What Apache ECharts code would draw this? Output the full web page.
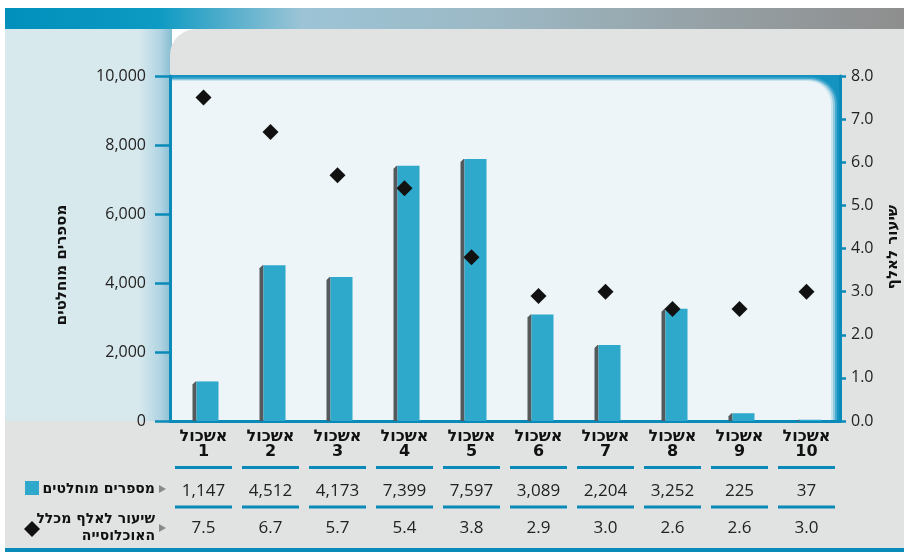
<!DOCTYPE html>
<html>
<head>
<meta charset="utf-8">
<script src="https://cdn.jsdelivr.net/npm/echarts@6/dist/echarts.min.js"></script>
<style>
  html, body { margin: 0; padding: 0; background: #ffffff; }
  #chart { width: 904px; height: 553px; }
</style>
</head>
<body>
<div id="chart"></div>
<script>
// Clusters (אשכול 1..10)
const categories = ['אשכול\n1', 'אשכול\n2', 'אשכול\n3', 'אשכול\n4', 'אשכול\n5',
                    'אשכול\n6', 'אשכול\n7', 'אשכול\n8', 'אשכול\n9', 'אשכול\n10'];
// Absolute numbers (bars, left axis)
const counts = [1147, 4512, 4173, 7399, 7597, 3089, 2204, 3252, 225, 37];
// Rate per thousand of population (diamonds, right axis)
const rates = [7.5, 6.7, 5.7, 5.4, 3.8, 2.9, 3.0, 2.6, 2.6, 3.0];

const leftAxisName = 'מספרים מוחלטים';
const rightAxisName = 'שיעור לאלף';
const legendCounts = 'מספרים מוחלטים';
const legendRates = ['שיעור לאלף מכלל', 'האוכלוסייה'];

const BLUE = '#2ea9cc';
const SIDE = '#545a5c';
const LINE = '#0a8ab8';
const NUM_FONT = "'Open Sans', 'DejaVu Sans', sans-serif";
const HEB_FONT = "'DejaVu Sans', 'Noto Sans', sans-serif";

const chart = echarts.init(document.getElementById('chart'), null, { renderer: 'canvas' });

const GRID = { left: 170, right: 64, top: 76, bottom: 132 };

// Bars with a dark left side face
function renderBar(params, api) {
  const idx = api.value(0);
  const v = api.value(1);
  const top = api.coord([idx, v]);
  const base = api.coord([idx, 0]);
  const cx = top[0];
  const h = base[1] - top[1];
  const bev = Math.min(3, h);
  return {
    type: 'group',
    children: [
      {
        type: 'polygon',
        shape: { points: [[cx - 11, top[1] + bev], [cx - 8, top[1]], [cx - 7, top[1]], [cx - 7, base[1]], [cx - 11, base[1]]] },
        style: { fill: SIDE }
      },
      {
        type: 'rect',
        shape: { x: cx - 7, y: top[1], width: 22, height: h },
        style: { fill: BLUE }
      }
    ]
  };
}

const backgrounds = [
  // top banner
  { type: 'rect', z: -10, shape: { x: 5, y: 8, width: 899, height: 21 },
    style: { fill: new echarts.graphic.LinearGradient(0, 0, 1, 0, [
      { offset: 0, color: '#0090bb' }, { offset: 0.17, color: '#0d9ac3' },
      { offset: 0.33, color: '#9cc4d6' }, { offset: 0.55, color: '#9cb8c4' },
      { offset: 0.8, color: '#959fa3' }, { offset: 1, color: '#8e8e8e' }]) } },
  // light blue side panel
  { type: 'rect', z: -10, shape: { x: 5, y: 29, width: 167, height: 392 },
    style: { fill: new echarts.graphic.LinearGradient(0, 0, 1, 0, [
      { offset: 0, color: '#d8e9ee' }, { offset: 0.8, color: '#d8e9ee' },
      { offset: 0.93, color: '#b0d4e2' }, { offset: 1, color: '#86bcd2' }]) } },
  // grey panel behind plot
  { type: 'rect', z: -9, shape: { x: 170, y: 29, width: 734, height: 392, r: [26, 0, 0, 0] },
    style: { fill: '#e1e3e3' } },
  // table panel
  { type: 'rect', z: -9, shape: { x: 5, y: 421, width: 899, height: 128 },
    style: { fill: '#e1e3e3' } },
  // bottom rule
  { type: 'rect', z: -8, shape: { x: 5, y: 548, width: 899, height: 4 },
    style: { fill: LINE } },
  // plot area: blue frame fading into a rounded light interior
  { type: 'rect', z: -8, shape: { x: 170, y: 75, width: 670, height: 346 }, style: { fill: '#1593c0' } },
  { type: 'rect', z: -8, shape: { x: 170, y: 77.5, width: 667, height: 343.5, r: [0, 26, 0, 0] }, style: { fill: '#45a9cf' } },
  { type: 'rect', z: -8, shape: { x: 170, y: 79, width: 665, height: 342, r: [0, 25, 0, 0] }, style: { fill: '#8fc9df' } },
  { type: 'rect', z: -8, shape: { x: 170, y: 80, width: 663, height: 341, r: [0, 24, 0, 0] }, style: { fill: '#c9e4ee' } },
  { type: 'rect', z: -8, shape: { x: 170, y: 81, width: 661, height: 340, r: [0, 23, 0, 0] }, style: { fill: '#edf5f8' } },
  // axis titles
  { type: 'text', z: 10, x: 62, y: 265, rotation: Math.PI / 2,
    style: { text: leftAxisName, font: 'bold 15px ' + HEB_FONT, fill: '#111', align: 'center', verticalAlign: 'middle' } },
  { type: 'text', z: 10, x: 893, y: 247, rotation: Math.PI / 2,
    style: { text: rightAxisName, font: 'bold 15px ' + HEB_FONT, fill: '#111', align: 'center', verticalAlign: 'middle' } },
  // legend column
  { type: 'rect', z: 10, shape: { x: 25, y: 481, width: 14, height: 14 }, style: { fill: BLUE } },
  { type: 'text', z: 10, x: 155, y: 489,
    style: { text: legendCounts, font: 'bold 14px ' + HEB_FONT, fill: '#111', align: 'right', verticalAlign: 'middle' } },
  { type: 'polygon', z: 10, shape: { points: [[159, 485], [166, 489], [159, 493]] }, style: { fill: '#8a8a8a' } },
  { type: 'polygon', z: 10, shape: { points: [[32, 521], [40, 529], [32, 537], [24, 529]] }, style: { fill: '#111' } },
  { type: 'text', z: 10, x: 155, y: 519,
    style: { text: legendRates[0], font: 'bold 14px ' + HEB_FONT, fill: '#111', align: 'right', verticalAlign: 'middle' } },
  { type: 'text', z: 10, x: 155, y: 536,
    style: { text: legendRates[1], font: 'bold 14px ' + HEB_FONT, fill: '#111', align: 'right', verticalAlign: 'middle' } },
  { type: 'polygon', z: 10, shape: { points: [[159, 524], [166, 528], [159, 532]] }, style: { fill: '#8a8a8a' } }
];

const option = {
  animation: false,
  grid: GRID,
  xAxis: [
    {
      type: 'category', data: categories, position: 'bottom',
      axisLine: { show: true, lineStyle: { color: LINE, width: 3 } },
      axisTick: { show: false },
      axisLabel: { interval: 0, margin: 8, color: '#111', fontFamily: HEB_FONT, fontWeight: 'bold', fontSize: 16, lineHeight: 15 }
    },
    {
      type: 'category', data: categories, position: 'bottom',
      axisLine: { show: false }, axisTick: { show: false },
      axisLabel: { interval: 0, margin: 62, color: '#222', fontFamily: NUM_FONT, fontSize: 17,
        formatter: (v, i) => counts[i].toLocaleString('en-US') }
    },
    {
      type: 'category', data: categories, position: 'bottom',
      axisLine: { show: false }, axisTick: { show: false },
      axisLabel: { interval: 0, margin: 99, color: '#222', fontFamily: NUM_FONT, fontSize: 17,
        formatter: (v, i) => rates[i].toFixed(1) }
    }
  ],
  yAxis: [
    {
      type: 'value', min: 0, max: 10000, interval: 2000, position: 'left',
      axisLine: { show: true, lineStyle: { color: LINE, width: 3 } },
      axisTick: { show: true, length: 15, lineStyle: { color: LINE, width: 2.5 } },
      axisLabel: { margin: 24, color: '#222', fontFamily: NUM_FONT, fontSize: 16,
        formatter: v => v.toLocaleString('en-US') },
      splitLine: { show: false }
    },
    {
      type: 'value', min: 0, max: 8, interval: 1, position: 'right',
      axisLine: { show: true, lineStyle: { color: LINE, width: 3 } },
      axisTick: { show: true, length: 6, lineStyle: { color: LINE, width: 2.5 } },
      axisLabel: { margin: 11, color: '#222', fontFamily: NUM_FONT, fontSize: 16,
        formatter: v => v.toFixed(1) },
      splitLine: { show: false }
    }
  ],
  series: [
    {
      type: 'custom', name: legendCounts, xAxisIndex: 0, yAxisIndex: 0,
      renderItem: renderBar,
      data: counts.map((v, i) => [i, v]),
      encode: { x: 0, y: 1 }
    },
    {
      type: 'scatter', name: rightAxisName, xAxisIndex: 0, yAxisIndex: 1,
      symbol: 'diamond', symbolSize: 16,
      itemStyle: { color: '#111', opacity: 1 },
      data: rates.map((v, i) => [i, v]),
      z: 5
    }
  ],
  graphic: backgrounds
};

chart.setOption(option);

// Blue rules under the cluster names and the count row, centred on each category
const rules = [];
categories.forEach((c, i) => {
  const x = chart.convertToPixel({ xAxisIndex: 0 }, i);
  rules.push({ type: 'rect', z: 10, shape: { x: x - 28.5, y: 466, width: 57, height: 3 }, style: { fill: LINE } });
  rules.push({ type: 'rect', z: 10, shape: { x: x - 28.5, y: 505.5, width: 57, height: 3 }, style: { fill: LINE } });
});
chart.setOption({ graphic: backgrounds.concat(rules) });
</script>
</body>
</html>
